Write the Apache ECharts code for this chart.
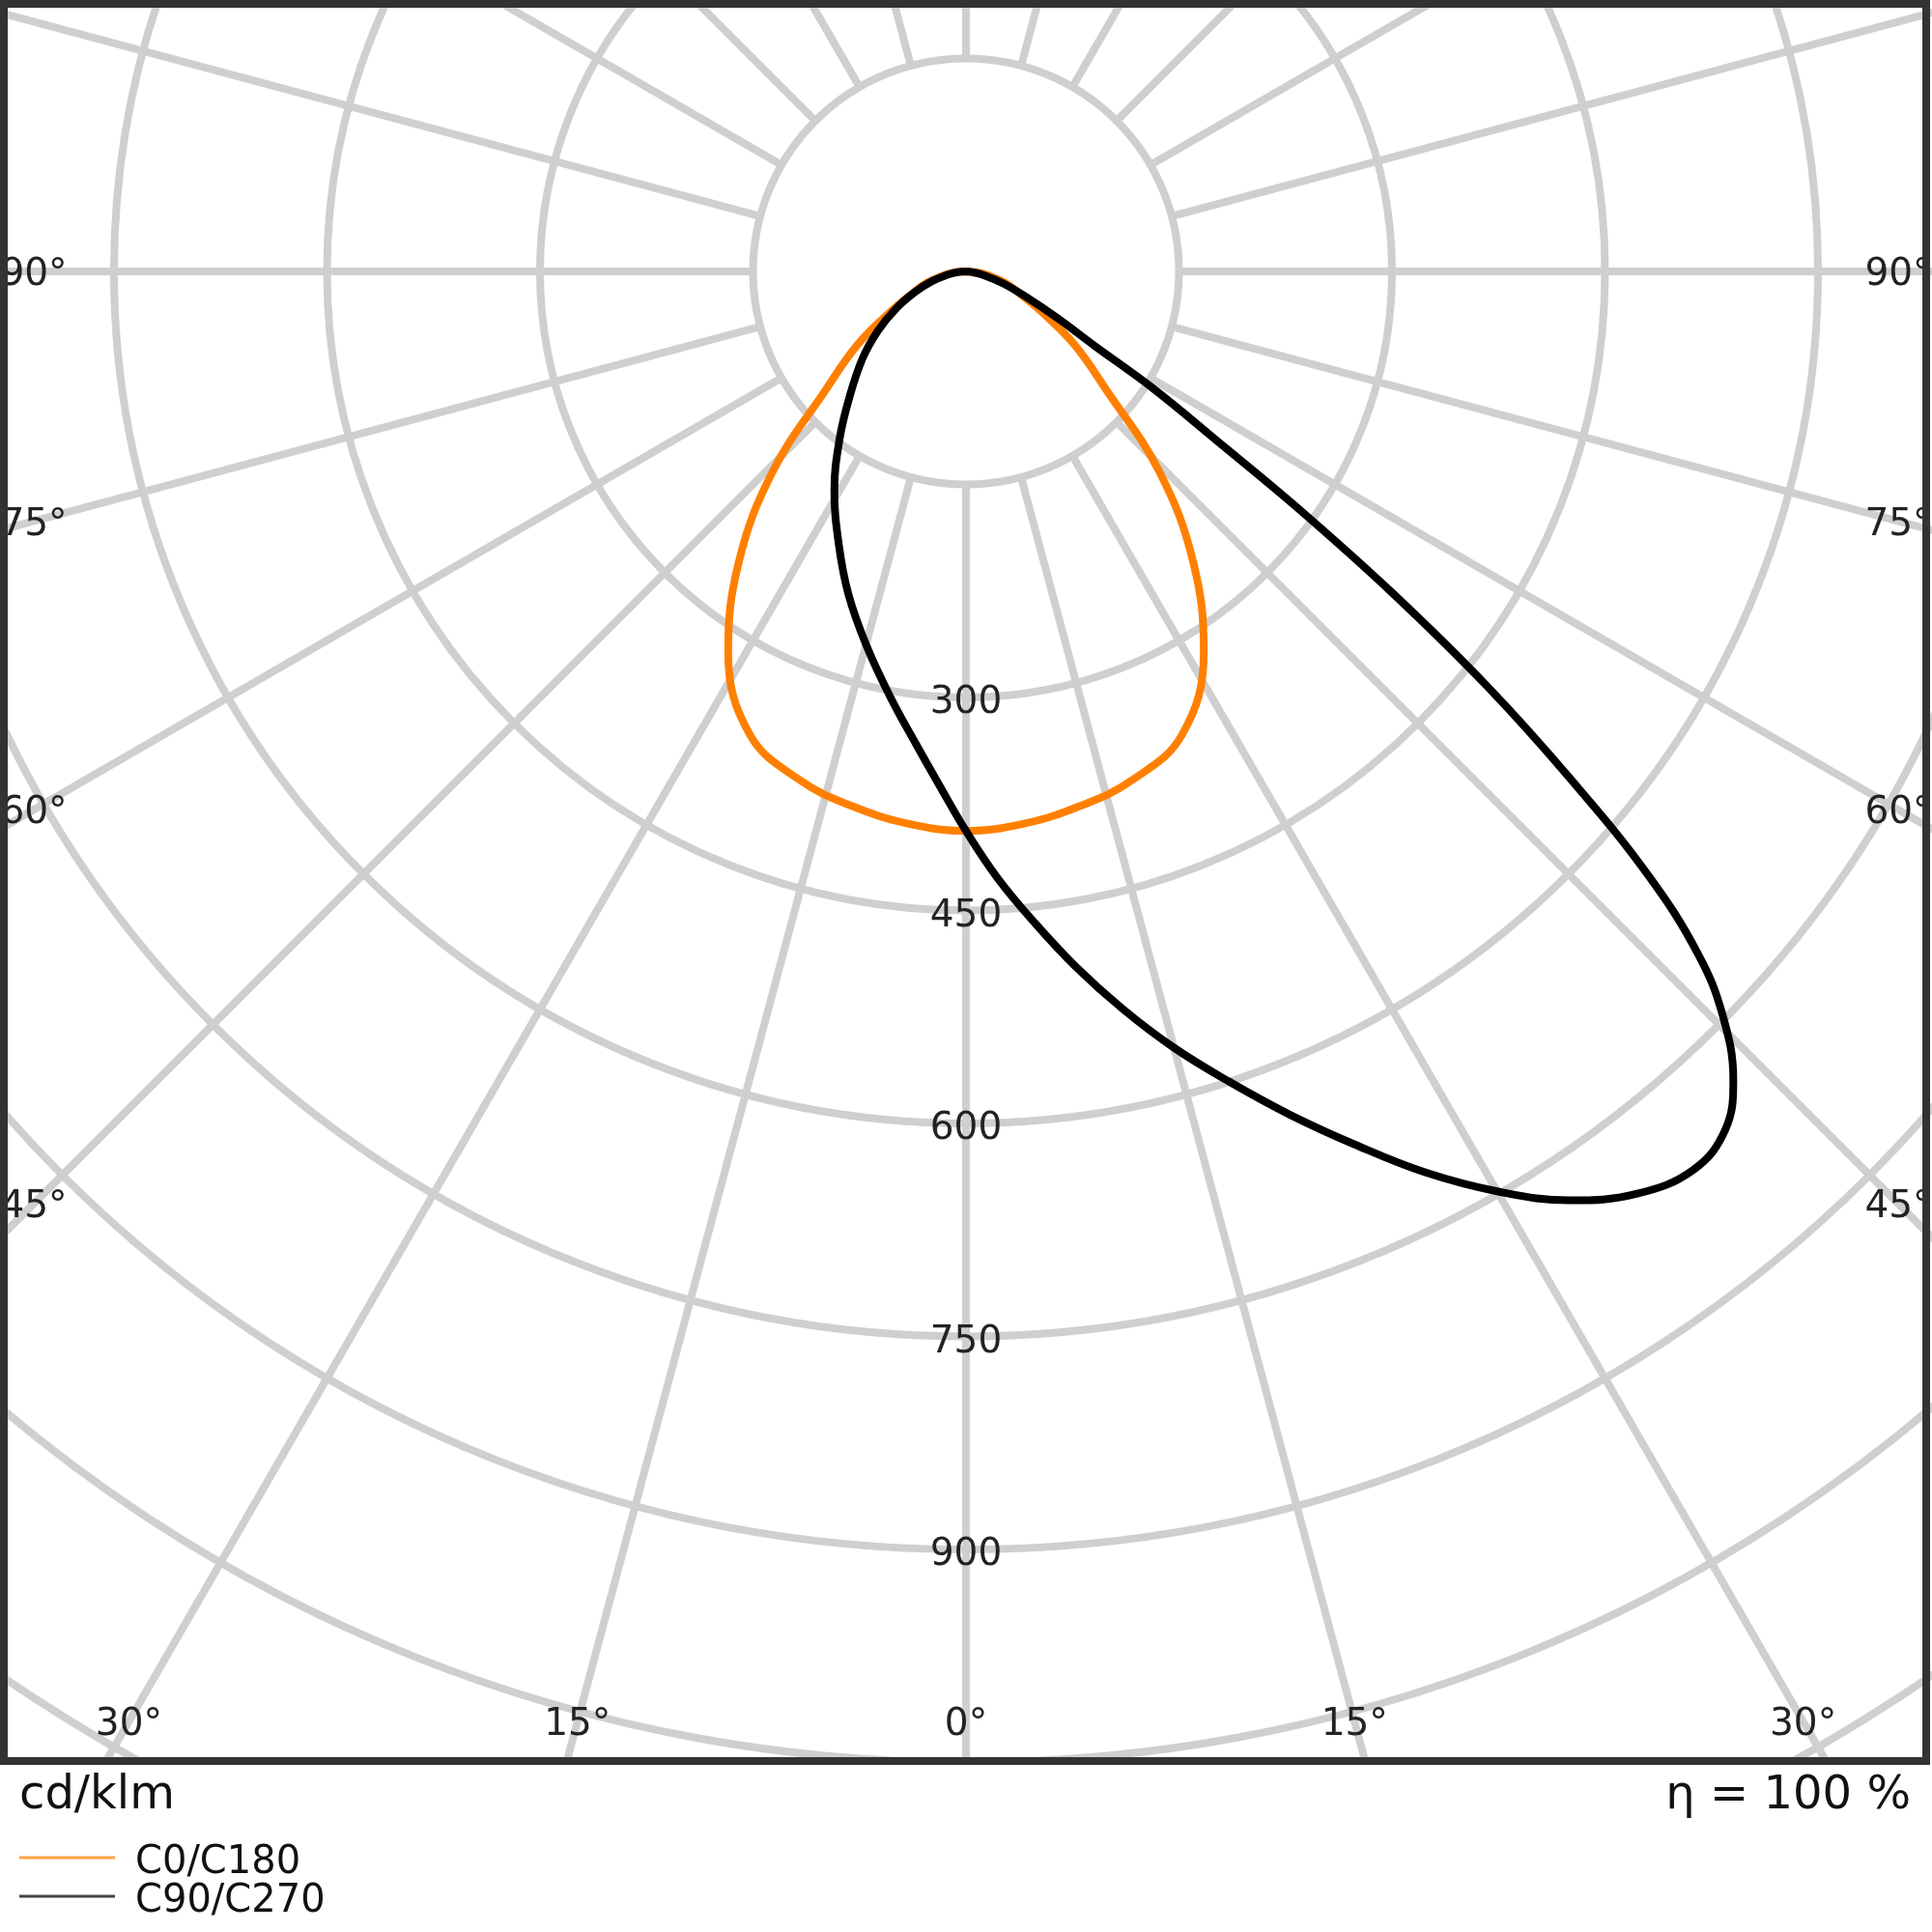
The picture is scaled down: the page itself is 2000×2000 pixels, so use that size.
<!DOCTYPE html>
<html>
<head>
<meta charset="utf-8">
<script src="https://cdn.jsdelivr.net/npm/echarts@6/dist/echarts.min.js"></script>
<style>
  html, body { margin: 0; padding: 0; background: #fff; }
  #main { width: 2000px; height: 2000px; }
</style>
</head>
<body>
<div id="main"></div>
<script>
// gamma angles (deg from nadir) and intensities in cd/klm
const anglesC0 = [0, 6, 12, 18, 25, 32, 38, 44, 50, 56, 62, 68, 74, 80, 85, 90];
const valuesC0 = [394, 391, 385, 377, 360, 316, 260, 196, 128, 92, 60, 40, 28, 16, 8, 0];
const valuesC180 = [394, 391, 385, 377, 360, 316, 260, 196, 128, 92, 60, 40, 28, 16, 8, 0];

const anglesC90 = [0, 3, 6, 9, 12, 15, 18, 21, 24, 27, 30, 33, 36, 39, 41.5, 43.5, 45.5, 47, 48.5,
  50, 51.5, 53, 54.5, 56, 58, 60, 63, 67, 72, 78, 84, 90];
const valuesC90 = [394, 428, 461, 496, 531, 566, 600, 636, 673, 712, 748, 780, 803, 814, 807, 785, 747, 705, 641,
  555, 468, 375, 287, 213, 155, 104, 72, 46, 28, 13, 4, 0];

const anglesC270 = [0, 3, 6, 10, 15, 20, 25, 31, 37, 43, 50, 56, 62, 68, 74, 80, 85, 90];
const valuesC270 = [394, 362, 335, 305, 272, 242, 212, 180, 148, 120, 95, 75, 56, 39, 25, 13, 6, 0];

const ringLabels = [300, 450, 600, 750, 900];
const angleLabels = [90, 75, 60, 45, 30, 15, 0];

// layout (pixels)
const CX = 1000, CY = 281;
const PX_PER_CD = 1.47;
const RMAX = 1350;
const FRAME = { x: 4, y: 4, w: 1990, h: 1819 };
const TEXT_DY = 4; // canvas 'middle' sits a bit high for DejaVu

const gridColor = '#cfcfcf';
const font = '"DejaVu Sans", "Noto Sans", sans-serif';

// left half uses 360 - gamma, right half gamma (nadir point only once)
function buildCurve(anglesL, valuesL, anglesR, valuesR) {
  const pts = [];
  for (let i = anglesL.length - 1; i >= 0; i--) {
    if (anglesL[i] === 0) continue;
    pts.push([valuesL[i], 360 - anglesL[i]]);
  }
  for (let i = 0; i < anglesR.length; i++) pts.push([valuesR[i], anglesR[i]]);
  return pts;
}

// angle labels sit on the radial lines, just inside the frame
function angleLabelElements() {
  const els = [];
  const left = 35;
  const bottom = FRAME.y + FRAME.h - 41;
  angleLabels.forEach(a => {
    const sides = a === 0 ? [1] : [-1, 1];
    sides.forEach(s => {
      const rad = a * Math.PI / 180;
      const sn = Math.sin(rad), cs = Math.cos(rad);
      const tSide = sn > 1e-6 ? (CX - left) / sn : Infinity;
      const tBot = cs > 1e-6 ? (bottom - CY) / cs : Infinity;
      const t = Math.min(tSide, tBot);
      els.push({
        type: 'text',
        z: 50,
        x: CX + s * t * sn,
        y: CY + t * cs + TEXT_DY,
        style: {
          text: a + '°',
          font: '39px ' + font,
          fill: '#222',
          align: 'center',
          verticalAlign: 'middle'
        }
      });
    });
  });
  return els;
}

const chart = echarts.init(document.getElementById('main'));
chart.setOption({
  animation: false,
  backgroundColor: '#fff',
  polar: [
    { center: [CX, CY], radius: [0, RMAX * PX_PER_CD] },
    { center: [CX, CY], radius: [150 * PX_PER_CD, RMAX * PX_PER_CD] }
  ],
  angleAxis: [
    {
      polarIndex: 0, type: 'value', min: 0, max: 360, startAngle: 270, clockwise: false,
      axisLine: { show: false }, axisTick: { show: false }, axisLabel: { show: false }, splitLine: { show: false }
    },
    {
      polarIndex: 1, type: 'value', min: 0, max: 360, interval: 15, startAngle: 270, clockwise: false,
      axisLine: { show: false }, axisTick: { show: false }, axisLabel: { show: false },
      splitLine: { show: true, lineStyle: { color: gridColor, width: 8 } }
    }
  ],
  radiusAxis: [
    {
      polarIndex: 0, type: 'value', min: 0, max: RMAX,
      axisLine: { show: false }, axisTick: { show: false }, axisLabel: { show: false }, splitLine: { show: false }
    },
    {
      polarIndex: 1, type: 'value', min: 150, max: RMAX, interval: 150, z: 1,
      axisLine: { show: false }, axisTick: { show: false },
      splitLine: { show: true, lineStyle: { color: gridColor, width: 8 } },
      axisLabel: {
        margin: 0, align: 'center', verticalAlign: 'middle',
        fontSize: 39, color: '#222', fontFamily: font,
        formatter: v => ringLabels.indexOf(v) >= 0 ? '{r|' + v + '}' : '',
        rich: {
          r: {
            fontSize: 39, color: '#222', fontFamily: font,
            padding: [TEXT_DY * 3, 0, 0, 0]
          }
        }
      }
    }
  ],
  series: [
    {
      name: 'C0/C180', type: 'line', coordinateSystem: 'polar', polarIndex: 0,
      data: buildCurve(anglesC0, valuesC180, anglesC0, valuesC0),
      showSymbol: false, smooth: 0.4,
      lineStyle: { color: '#ff8000', width: 8 }
    },
    {
      name: 'C90/C270', type: 'line', coordinateSystem: 'polar', polarIndex: 0,
      data: buildCurve(anglesC270, valuesC270, anglesC90, valuesC90),
      showSymbol: false, smooth: 0.4,
      lineStyle: { color: '#000', width: 8 }
    }
  ],
  graphic: {
    elements: angleLabelElements().concat([
      // white mask below the frame
      { type: 'rect', z: 90, shape: { x: 0, y: FRAME.y + FRAME.h, width: 2000, height: 200 }, style: { fill: '#fff' } },
      {
        type: 'rect', z: 100,
        shape: { x: FRAME.x, y: FRAME.y, width: FRAME.w, height: FRAME.h },
        style: { fill: null, stroke: '#333', lineWidth: 8 }
      },
      { type: 'text', z: 100, x: 20, y: 1860, style: { text: 'cd/klm', font: '48px ' + font, fill: '#111', align: 'left', verticalAlign: 'middle' } },
      { type: 'text', z: 100, x: 1978, y: 1860, style: { text: 'η = 100 %', font: '48px ' + font, fill: '#111', align: 'right', verticalAlign: 'middle' } },
      // legend
      { type: 'line', z: 100, shape: { x1: 20, y1: 1923, x2: 119, y2: 1923 }, style: { stroke: '#ffa040', lineWidth: 3 } },
      { type: 'text', z: 100, x: 140, y: 1929, style: { text: 'C0/C180', font: '40px ' + font, fill: '#111', align: 'left', verticalAlign: 'middle' } },
      { type: 'line', z: 100, shape: { x1: 20, y1: 1963, x2: 119, y2: 1963 }, style: { stroke: '#444', lineWidth: 3 } },
      { type: 'text', z: 100, x: 140, y: 1969, style: { text: 'C90/C270', font: '40px ' + font, fill: '#111', align: 'left', verticalAlign: 'middle' } }
    ])
  }
});
</script>
</body>
</html>
